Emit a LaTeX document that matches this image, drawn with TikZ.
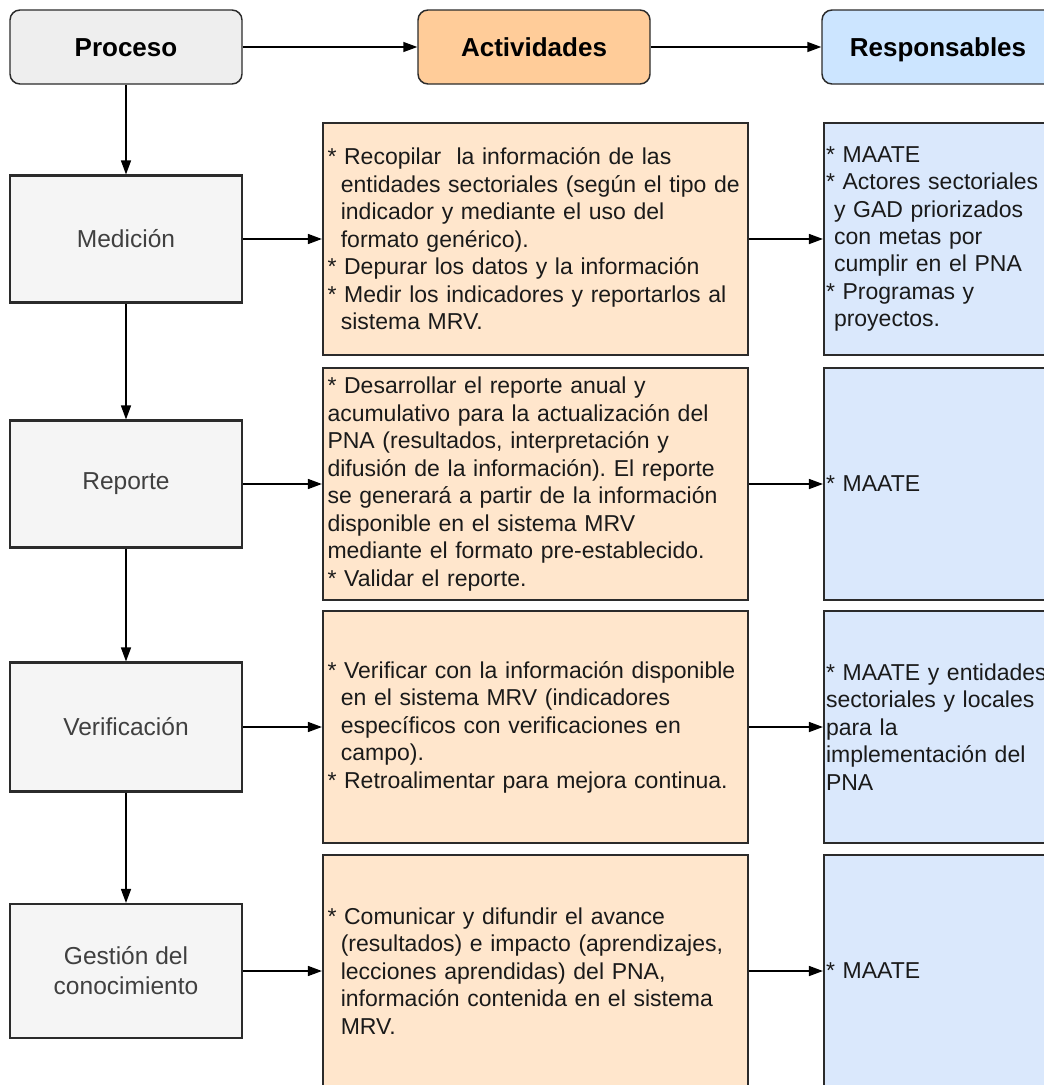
\documentclass[tikz,border=0pt]{standalone}
\usepackage{fontspec}
\setmainfont{Liberation Sans}
\usepackage{xcolor}
\usepackage{tikz}
\usetikzlibrary{arrows.meta}

\definecolor{bordeOsc}{HTML}{2B2B2B}
\definecolor{grisCab}{HTML}{EEEEEE}
\definecolor{naranjaCab}{HTML}{FFCC99}
\definecolor{azulCab}{HTML}{CCE5FF}
\definecolor{grisProc}{HTML}{F5F5F5}
\definecolor{naranjaAct}{HTML}{FFE6CC}
\definecolor{azulRes}{HTML}{DAE8FC}
\definecolor{textoProc}{HTML}{404040}
\definecolor{textoCaja}{HTML}{1A1A1A}

\newcommand{\sangria}[1]{\hspace*{#1}}
\frenchspacing

\begin{document}
\begin{tikzpicture}[x=0.75pt, y=-0.75pt,
		cajaCab/.style={draw=bordeOsc, line width=1.1pt, rounded corners=7.5pt, minimum width=174pt, minimum height=55.5pt, text height=16pt, text depth=2pt, font=\fontsize{19.5}{23}\selectfont\bfseries},
		cajaProc/.style={draw=bordeOsc, line width=1.6pt, fill=grisProc, minimum width=174pt, minimum height=95.25pt, align=center, text=textoProc, font=\fontsize{18.4}{22.5}\selectfont},
		cajaAct/.style={draw=bordeOsc, line width=1.6pt, fill=naranjaAct, minimum height=174pt, text width=312pt, inner xsep=3.4pt, align=left, text=textoCaja, font=\fontsize{17.25}{20.6}\selectfont},
		cajaRes/.style={draw=bordeOsc, line width=1.6pt, fill=azulRes, minimum height=174pt, text width=169.5pt, inner xsep=1.5pt, align=left, text=textoCaja, font=\fontsize{17.25}{20.6}\selectfont},
		flecha/.style={-{Triangle[length=10.5pt, width=7.5pt]}, line width=1.1pt}]
	\useasboundingbox (0, 0) rectangle (1044, 1085);
	
	% Cabeceras
	\node[cajaCab, fill=grisCab] (proceso) at (126, 47) {Proceso};
	\node[cajaCab, fill=naranjaCab] (actividades) at (534, 47) {Actividades};
	\node[cajaCab, fill=azulCab] (responsables) at (938, 47) {Responsables};
	
	% Procesos
	\node[cajaProc] (medicion) at (126, 239) {Medición};
	\node[cajaProc] (reporte) at (126, 484) {Reporte};
	\node[cajaProc, minimum height=96.75pt] (verificacion) at (126, 727) {Verificación};
	\node[cajaProc, minimum height=100.5pt] (gestion) at (126, 971) {Gestión del\\conocimiento};
	
	% Actividades
	\node[cajaAct] (actMedicion) at (535.5, 239) {* Recopilar~ la información de las\\ \sangria{10pt}entidades sectoriales (según el tipo de\\ \sangria{10pt}indicador y mediante el uso del\\ \sangria{10pt}formato genérico).\\{*} Depurar los datos y la información\\{*} Medir los indicadores y reportarlos al\\ \sangria{10pt}sistema MRV.};
	\node[cajaAct] (actReporte) at (535.5, 484) {* Desarrollar el reporte anual y\\acumulativo para la actualización del\\PNA (resultados, interpretación y\\difusión de la información). El reporte\\se generará a partir de la información\\disponible en el sistema MRV\\mediante el formato pre-establecido.\\{*} Validar el reporte.};
	\node[cajaAct] (actVerificacion) at (535.5, 727) {* Verificar con la información disponible\\ \sangria{10pt}en el sistema MRV (indicadores\\ \sangria{10pt}específicos con verificaciones en\\ \sangria{10pt}campo).\\{*} Retroalimentar para mejora continua.};
	\node[cajaAct] (actGestion) at (535.5, 971) {* Comunicar y difundir el avance\\ \sangria{10pt}(resultados) e impacto (aprendizajes,\\ \sangria{10pt}lecciones aprendidas) del PNA,\\ \sangria{10pt}información contenida en el sistema\\ \sangria{10pt}MRV.};
	
	% Responsables
	\node[cajaRes] (resMedicion) at (939, 239) {* MAATE\\{*} Actores sectoriales\\ \sangria{6pt}y GAD priorizados\\ \sangria{6pt}con metas por\\ \sangria{6pt}cumplir en el PNA\\{*} Programas y\\ \sangria{6pt}proyectos.};
	\node[cajaRes] (resReporte) at (939, 484) {* MAATE};
	\node[cajaRes] (resVerificacion) at (939, 727) {* MAATE y entidades\\sectoriales y locales\\para la\\implementación del\\PNA};
	\node[cajaRes] (resGestion) at (939, 971) {* MAATE};
	
	% Flechas de cabecera
	\draw[flecha] (proceso) -- (actividades);
	\draw[flecha] (actividades) -- (responsables);
	
	% Flechas verticales
	\draw[flecha] (proceso) -- (medicion);
	\draw[flecha] (medicion) -- (reporte);
	\draw[flecha] (reporte) -- (verificacion);
	\draw[flecha] (verificacion) -- (gestion);
	
	% Flechas horizontales
	\draw[flecha] (medicion) -- (actMedicion);
	\draw[flecha] (actMedicion) -- (resMedicion);
	\draw[flecha] (reporte) -- (actReporte);
	\draw[flecha] (actReporte) -- (resReporte);
	\draw[flecha] (verificacion) -- (actVerificacion);
	\draw[flecha] (actVerificacion) -- (resVerificacion);
	\draw[flecha] (gestion) -- (actGestion);
	\draw[flecha] (actGestion) -- (resGestion);
\end{tikzpicture}
\end{document}
